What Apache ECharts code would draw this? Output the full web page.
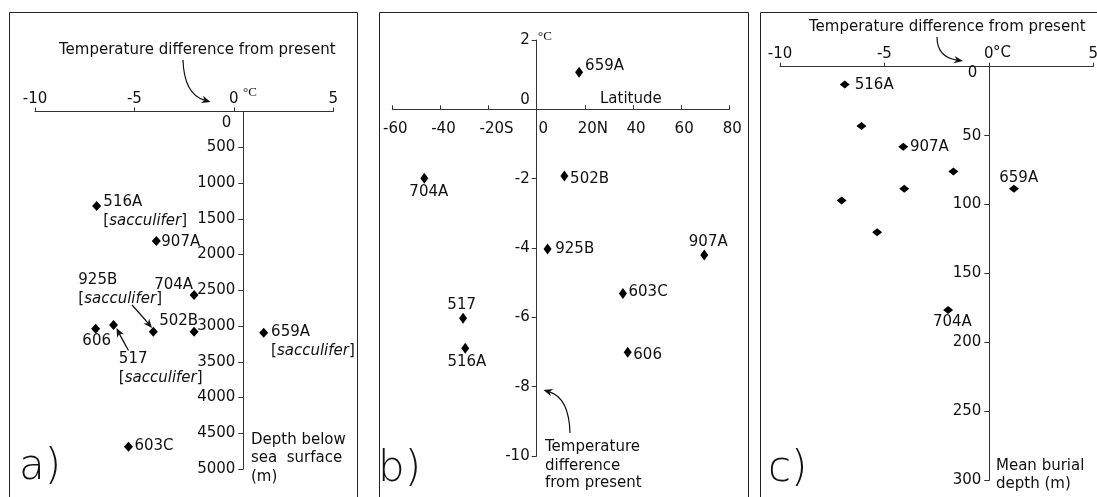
<!DOCTYPE html>
<html><head><meta charset="utf-8">
<script src="https://cdn.jsdelivr.net/npm/echarts@6/dist/echarts.min.js"></script>
<style>html,body{margin:0;padding:0;background:#fff}#c{width:1097px;height:497px}</style>
</head><body><div id="c"></div>
<script>
// ---------- DATA ----------
// Panel a: temperature difference (°C) vs depth below sea surface (m)
const sitesA = ['516A','907A','704A','502B','925B','606','517','659A','603C'];
const tempA  = [-6.9, -3.9, -2.0, -2.0, -4.05, -6.95, -6.05, 1.5, -5.3];
const depthA = [1320, 1810, 2565, 3080, 3080, 3040, 2985, 3095, 4690];
const sacculiferA = ['516A','925B','517','659A'];
// Panel b: temperature difference (°C) vs latitude
const sitesB = ['659A','704A','502B','925B','907A','603C','517','516A','606'];
const latB   = [17.6, -46.7, 11.5, 4.5, 69.6, 35.8, -30.6, -29.7, 37.8];
const tempB  = [1.07, -1.99, -1.92, -4.03, -4.2, -5.31, -6.03, -6.89, -7.01];
// Panel c: temperature difference (°C) vs mean burial depth (m)
const sitesC  = ['516A','','907A','','','659A','','','704A'];
const tempC   = [-6.9, -6.1, -4.1, -1.7, -4.05, 1.2, -7.05, -5.35, -1.95];
const burialC = [13, 43, 58, 76, 88.5, 88.5, 97, 120, 176.5];
// tick label texts
const latTickText = {'-20':'-20S', '20':'20N'};

// ---------- LAYOUT / STYLE ----------
const FF = '"DejaVu Sans", sans-serif';
const TXT = '#111', AX = '#333';
// label placement per site: [align, dx, dy(top)]
const labA = {'516A':['left',6.7,-12.8],'907A':['left',5,-8.8],'704A':['right',-1,-19.5],'502B':['right',4,-19.7],
  '925B':['left',-75,-61.2],'606':['center',1,3.2],'517':['left',5.3,25],'659A':['left',7.4,-10.5],'603C':['left',6,-10.2]};
const labB = {'659A':['left',6,-16.1],'704A':['center',4.5,3.9],'502B':['left',5.7,-6.2],'925B':['left',7.7,-9.5],
  '907A':['center',4,-22.2],'603C':['left',5.6,-10.5],'517':['center',-1.4,-22.8],'516A':['center',1.7,4.5],'606':['left',5.6,-6.5]};
const labC = {'516A':['left',10,-9.5],'907A':['left',6.7,-9.5],'659A':['center',4.8,-20.5],'704A':['center',4.2,2.2]};

function mkData(names, xs, ys, lab) {
  return names.map((n, i) => {
    const L = lab[n];
    const item = {name: n, value: [xs[i], ys[i]]};
    item.label = L ? {show: true, position: 'inside', align: L[0], verticalAlign: 'top', offset: [L[1], L[2]], color: TXT, opacity: 1} : {show: false};
    return item;
  });
}
const baseLabel = {color: TXT, opacity: 1, fontFamily: FF, fontSize: 15, lineHeight: 19, textBorderWidth: 0,
  rich: {i: {fontStyle: 'italic', fontFamily: FF, fontSize: 15, color: TXT, lineHeight: 19}}};

function axisX(grid, min, max, interval, pos, offset, tickInside, margin, formatter, rich) {
  return {gridIndex: grid, type: 'value', min, max, interval, position: pos, offset,
    axisLine: {show: true, onZero: false, lineStyle: {color: AX, width: 1}},
    axisTick: {show: true, inside: tickInside, length: 4, lineStyle: {color: AX}},
    axisLabel: {show: true, margin, color: TXT, fontFamily: FF, fontSize: 15, showMinLabel: true, showMaxLabel: true,
      formatter, rich},
    splitLine: {show: false}};
}
function axisY(grid, min, max, interval, inverse, offset, margin, formatter, rich) {
  return {gridIndex: grid, type: 'value', min, max, interval, inverse, position: 'left', offset,
    axisLine: {show: true, onZero: false, lineStyle: {color: AX, width: 1}},
    axisTick: {show: true, length: 5, lineStyle: {color: AX}},
    axisLabel: {show: true, margin, color: TXT, fontFamily: FF, fontSize: 15, showMinLabel: true, showMaxLabel: true,
      formatter, rich},
    splitLine: {show: false}};
}

function arrow(p0, c, p1, head) {
  head = head || 9;
  const dx = p1[0]-c[0], dy = p1[1]-c[1], L = Math.hypot(dx, dy), ux = dx/L, uy = dy/L;
  const bx = p1[0]-ux*head, by = p1[1]-uy*head, w = head*0.42;
  const nx = p1[0]-ux*head*0.7, ny = p1[1]-uy*head*0.7;
  return [
    {type: 'bezierCurve', shape: {x1: p0[0], y1: p0[1], cpx1: c[0], cpy1: c[1], x2: nx, y2: ny},
      style: {stroke: '#111', lineWidth: 1.2, fill: null}},
    {type: 'polygon', shape: {points: [[p1[0], p1[1]], [bx-uy*w, by+ux*w], [nx, ny], [bx+uy*w, by-ux*w]]},
      style: {fill: '#111'}}
  ];
}
function txt(text, x, y, size, extra) {
  return {type: 'text', x, y, style: Object.assign({text, fill: TXT, fontFamily: FF, fontSize: size || 15,
    verticalAlign: 'middle', align: 'left'}, extra || {})};
}
function frame(x, y, w, h) {
  return {type: 'rect', shape: {x, y, width: w, height: h}, style: {fill: null, stroke: '#222', lineWidth: 1}};
}

const chart = echarts.init(document.getElementById('c'), null, {renderer: 'canvas'});
const option = {
  animation: false,
  backgroundColor: '#fff',
  grid: [
    {left: 35, top: 111.5, width: 298.3, height: 357.5, containLabel: false, outerBoundsMode: 'none'},
    {left: 392.3, top: 40, width: 337, height: 416, containLabel: false, outerBoundsMode: 'none'},
    {left: 780, top: 66.7, width: 313.3, height: 413.6, containLabel: false, outerBoundsMode: 'none'}
  ],
  xAxis: [
    axisX(0, -10, 5, 5, 'top', 0, false, 5),
    axisX(1, -60, 80, 20, 'bottom', -346.7, true, 12,
      v => v === 0 ? '{z|0}' : (latTickText[String(v)] ? '{s|' + latTickText[String(v)] + '}' : '{g|' + v + '}'),
      {z: {padding: [0, 0, 0, 13]}, s: {padding: [0, 0, 0, 16]}, g: {padding: [0, 0, 0, 6]}}),
    axisX(2, -10, 5, 5, 'top', 0, false, 5)
  ],
  yAxis: [
    axisY(0, 0, 5000, 500, true, -208.3, 8, v => v === 0 ? '{z|0}' : String(v), {z: {padding: [23, 4, 0, 0]}}),
    axisY(1, -10, 2, 2, false, -144.4, 7, v => v === 0 ? '{z|0}' : String(v), {z: {padding: [0, 0, 18, 0]}}),
    axisY(2, 0, 300, 50, true, -209.3, 8, v => v === 0 ? '{z|0}' : String(v), {z: {padding: [13, 4, 0, 0]}})
  ],
  series: [
    {type: 'scatter', xAxisIndex: 0, yAxisIndex: 0, symbol: 'diamond', symbolSize: [9, 10],
      itemStyle: {color: '#000', opacity: 1}, data: mkData(sitesA, tempA, depthA, labA),
      label: Object.assign({}, baseLabel, {formatter: p => sacculiferA.includes(p.name) ? p.name + '\n[{i|sacculifer}]' : p.name})},
    {type: 'scatter', xAxisIndex: 1, yAxisIndex: 1, symbol: 'diamond', symbolSize: [8, 11],
      itemStyle: {color: '#000', opacity: 1}, data: mkData(sitesB, latB, tempB, labB),
      label: Object.assign({}, baseLabel, {formatter: p => p.name})},
    {type: 'scatter', xAxisIndex: 2, yAxisIndex: 2, symbol: 'diamond', symbolSize: [10, 8],
      itemStyle: {color: '#000', opacity: 1}, data: mkData(sitesC, tempC, burialC, labC),
      label: Object.assign({}, baseLabel, {formatter: p => p.name})}
  ],
  graphic: {elements: [
    frame(9.5, 12.5, 348, 600), frame(379.5, 12.5, 369, 600), frame(760.5, 12.5, 345, 600),
    // panel a
    txt('Temperature difference from present', 59, 50),
    txt('°C', 243, 93, 13, {fontFamily: '"Liberation Serif", serif'}),
    txt('Depth below', 251, 440), txt('sea  surface', 251, 458), txt('(m)', 251, 477),
    txt('a)', 19, 468, 42, {fontWeight: 200}),
    ...arrow([183, 60], [184, 94], [210.5, 102]),
    ...arrow([132, 305], [142, 316], [152, 328]),
    ...arrow([128.5, 350.5], [122, 339], [116.5, 328]),
    // panel b
    txt('°C', 538, 37, 13, {fontFamily: '"Liberation Serif", serif'}),
    txt('Latitude', 600, 99),
    txt('Temperature', 545, 447), txt('difference', 545, 466), txt('from present', 545, 483),
    txt('b)', 378, 470, 42, {fontWeight: 200}),
    ...arrow([570, 433], [569, 398], [543.5, 390]),
    // panel c
    txt('Temperature difference from present', 809, 27),
    txt('°C', 993, 53, 15),
    txt('Mean burial', 996, 466), txt('depth (m)', 996, 484),
    txt('c)', 768, 470, 42, {fontWeight: 200}),
    ...arrow([937, 37], [937, 57], [963, 61])
  ]}
};
chart.setOption(option);
</script></body></html>
